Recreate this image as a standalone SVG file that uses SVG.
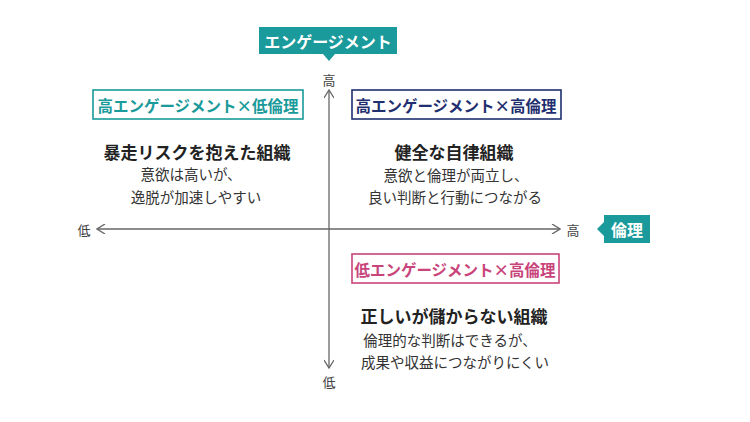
<svg xmlns="http://www.w3.org/2000/svg" width="750" height="422" viewBox="0 0 750 422">
<style>
text{font-family:"Noto Sans CJK JP","Noto Sans",sans-serif;text-anchor:middle;dominant-baseline:central}
.ax{font-size:13px;fill:#444}
.lab{font-size:16px;font-weight:bold;fill:#fff}
.bx{fill:#fff;stroke-width:1.6}
.bt{font-size:15.5px;font-weight:bold}
.tt{font-size:17px;font-weight:bold;fill:#222}
.st{font-size:14.5px;fill:#333}
.line{stroke:#666;stroke-width:1.3;fill:none}
</style>
<defs><marker id="ar" viewBox="0 0 10 10" refX="9" refY="5" markerWidth="10" markerHeight="10" markerUnits="userSpaceOnUse" orient="auto"><path d="M1,0 L9,5 L1,10" fill="none" stroke="#666" stroke-width="1.3"/></marker></defs>
<rect width="750" height="422" fill="#fff"/>
<g id="connectors">
<line class="line" x1="329" y1="229" x2="329" y2="90" marker-end="url(#ar)"/>
<line class="line" x1="329" y1="229" x2="329" y2="368" marker-end="url(#ar)"/>
<line class="line" x1="329" y1="229" x2="560" y2="229" marker-end="url(#ar)"/>
<line class="line" x1="329" y1="229" x2="97" y2="229" marker-end="url(#ar)"/>
</g>
<g id="axis-v">
<rect x="259" y="27" width="138" height="27" fill="#1a9a9a"/>
<path d="M323,54 L329,61 L335,54Z" fill="#1a9a9a"/>
<text class="lab" x="328" y="40.5">エンゲージメント</text>
<text class="ax" x="329" y="79">高</text>
<text class="ax" x="329" y="381">低</text>
</g>
<g id="axis-h">
<text class="ax" x="84" y="229">低</text>
<text class="ax" x="573" y="229">高</text>
<rect x="604" y="215" width="46" height="28" fill="#1a9a9a"/>
<path d="M604,222 L597,229 L604,236Z" fill="#1a9a9a"/>
<text class="lab" x="627" y="229">倫理</text>
</g>
<g id="q-tl">
<rect class="bx" x="93" y="90" width="210" height="29" stroke="#1a9a9a"/>
<text class="bt" x="198" y="104.5" fill="#1a9a9a">高エンゲージメント×低倫理</text>
<text class="tt" x="197" y="151">暴走リスクを抱えた組織</text>
<text class="st" x="191" y="173">意欲は高いが、</text>
<text class="st" x="196" y="196">逸脱が加速しやすい</text>
</g>
<g id="q-tr">
<rect class="bx" x="352" y="90" width="209" height="29" stroke="#1f2f6f"/>
<text class="bt" x="456" y="104.5" fill="#1f2f6f">高エンゲージメント×高倫理</text>
<text class="tt" x="454" y="151">健全な自律組織</text>
<text class="st" x="456" y="174">意欲と倫理が両立し、</text>
<text class="st" x="455" y="196">良い判断と行動につながる</text>
</g>
<g id="q-br">
<rect class="bx" x="352" y="254" width="207" height="29" stroke="#c8447a"/>
<text class="bt" x="455" y="268.5" fill="#c8447a">低エンゲージメント×高倫理</text>
<text class="tt" x="454" y="315">正しいが儲からない組織</text>
<text class="st" x="450" y="339">倫理的な判断はできるが、</text>
<text class="st" x="455" y="361">成果や収益につながりにくい</text>
</g>
</svg>
